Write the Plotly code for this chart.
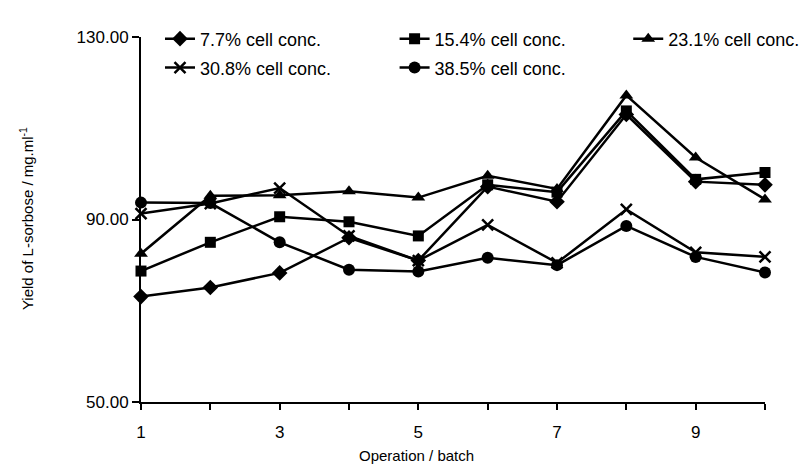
import plotly.graph_objects as go

batches = [1, 2, 3, 4, 5, 6, 7, 8, 9, 10]
names = ["7.7% cell conc.", "15.4% cell conc.", "23.1% cell conc.",
         "30.8% cell conc.", "38.5% cell conc."]
conc_7_7 = [73.1, 75.1, 78.3, 86.0, 81.0, 97.2, 93.9, 113.0, 98.3, 97.6]
conc_15_4 = [78.7, 85.0, 90.6, 89.5, 86.4, 97.6, 96.0, 113.8, 98.8, 100.3]
conc_23_1 = [82.5, 95.2, 95.3, 96.2, 94.8, 99.6, 96.7, 117.2, 103.6, 94.4]
conc_30_8 = [91.3, 93.5, 96.9, 86.4, 81.0, 88.8, 80.5, 92.2, 82.8, 81.8]
conc_38_5 = [93.7, 93.6, 85.0, 79.0, 78.6, 81.6, 80.0, 88.6, 81.8, 78.4]
x_tick_vals = [1, 3, 5, 7, 9]
x_tick_text = ["1", "3", "5", "7", "9"]
x_minor_vals = [2, 4, 6, 8, 10]
y_tick_vals = [50, 90, 130]
y_tick_text = ["50.00", "90.00", "130.00"]

series = [conc_7_7, conc_15_4, conc_23_1, conc_30_8, conc_38_5]
symbols = ["diamond", "square", "triangle-up", "x-thin", "circle"]
sizes = [12, 11, 12, 11, 12]
legends = ["legend", "legend2", "legend3", "legend4", "legend5"]

FONT = "Liberation Sans, Arial, sans-serif"

fig = go.Figure()
for vals, name, sym, sz, lg in zip(series, names, symbols, sizes, legends):
    marker = dict(symbol=sym, size=sz, color="black")
    if sym == "x-thin":
        marker["line"] = dict(width=2.5, color="black")
    fig.add_trace(go.Scatter(
        x=batches, y=vals, name=name, mode="lines+markers",
        line=dict(color="black", width=2.5), marker=marker,
        cliponaxis=False, legend=lg))

L, R, T, B = 133, 19, 15, 70
W, H = 809, 464
pw, ph = W - L - R, H - T - B

def px(xp):
    return (xp - L) / pw

def py(yp):
    return (H - B - yp) / ph

leg_common = dict(bgcolor="rgba(0,0,0,0)", borderwidth=0,
                  font=dict(family=FONT, size=18, color="black"),
                  xanchor="left", yanchor="middle")
pos = [(153, 17), (400, 17), (646, 17), (153, 47), (400, 47)]
layout_legs = {}
for lg, (lx, ly) in zip(legends, pos):
    layout_legs[lg] = dict(x=px(lx), y=py(ly), **leg_common)

fig.update_layout(
    width=W, height=H,
    margin=dict(l=L, r=R, t=T, b=B),
    paper_bgcolor="white", plot_bgcolor="white",
    showlegend=True,
    font=dict(family=FONT, color="black"),
    xaxis=dict(range=[1, 10], tickvals=x_tick_vals, ticktext=x_tick_text,
               showline=True, linecolor="black", linewidth=2,
               ticks="outside", ticklen=6, tickwidth=2, tickcolor="black",
               minor=dict(tickvals=x_minor_vals, ticks="outside", ticklen=6,
                          tickwidth=2, tickcolor="black", showgrid=False),
               showgrid=False, zeroline=False, ticklabelstandoff=8,
               tickfont=dict(family=FONT, size=17, color="black")),
    yaxis=dict(range=[50, 130], tickvals=y_tick_vals, ticktext=y_tick_text,
               showline=True, linecolor="black", linewidth=2,
               ticks="outside", ticklen=7, tickwidth=2, tickcolor="black",
               showgrid=False, zeroline=False,
               tickfont=dict(family=FONT, size=17, color="black")),
    annotations=[
        dict(text="Operation / batch", x=px(423), y=py(450), xref="paper", yref="paper",
             xanchor="center", yanchor="middle", showarrow=False,
             font=dict(family=FONT, size=15, color="black")),
        dict(text="Yield of L-sorbose / mg.ml<sup>-1</sup>", x=px(12), y=py(204),
             xref="paper", yref="paper", xanchor="center", yanchor="middle",
             textangle=-90, showarrow=False,
             font=dict(family=FONT, size=15, color="black")),
    ],
    **layout_legs,
)

fig.write_html("out.html")
